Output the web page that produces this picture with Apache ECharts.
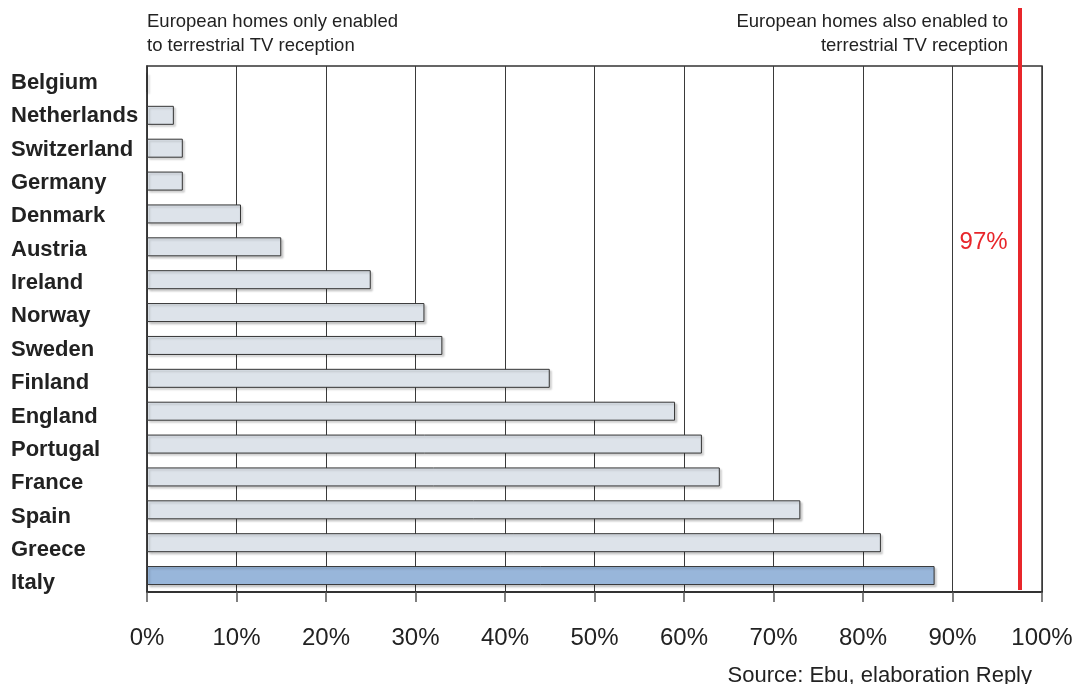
<!DOCTYPE html>
<html>
<head>
<meta charset="utf-8">
<script src="https://cdn.jsdelivr.net/npm/echarts@6/dist/echarts.min.js"></script>
<style>
html,body{margin:0;padding:0;background:#fff;}
#chart{width:1078px;height:684px;}
</style>
</head>
<body>
<div id="chart"></div>
<script>
const countries = ['Belgium','Netherlands','Switzerland','Germany','Denmark','Austria','Ireland','Norway','Sweden','Finland','England','Portugal','France','Spain','Greece','Italy'];
const shares = [0, 3, 4, 4, 10.5, 15, 25, 31, 33, 45, 59, 62, 64, 73, 82, 88];
const highlighted = 'Italy';
const alsoEnabledLine = 97.5;
const alsoEnabledLabel = '97%';
const xTicks = [0,10,20,30,40,50,60,70,80,90,100];

const FONT = '"Liberation Sans", Arial, sans-serif';
const chart = echarts.init(document.getElementById('chart'), null, {renderer:'canvas'});

const barData = countries.map((c, i) => ({
  value: shares[i],
  itemStyle: { color: c === highlighted ? '#98b6da' : '#dde3ea' }
}));

chart.setOption({
  animation: false,
  backgroundColor: '#fff',
  grid: [
    { left: 147, right: 36, top: 66, bottom: 92, show: true, borderColor: '#333', borderWidth: 1.5, containLabel: false },
    { left: 147, right: 36, top: 8, bottom: 94, show: false },
    { left: 147, right: 36, top: 66, bottom: 84, show: false }
  ],
  xAxis: [
    {
      gridIndex: 0, type: 'value', min: 0, max: 100, interval: 10,
      axisLine: { show: true, lineStyle: { color: '#333', width: 2 } },
      axisTick: { show: true, length: 10, lineStyle: { color: '#555', width: 1.5 } },
      splitLine: { show: true, lineStyle: { color: '#3a3a3a', width: 1 } },
      axisLabel: { formatter: v => v + '%', color: '#222', fontSize: 24, fontFamily: FONT, margin: 34 }
    },
    { gridIndex: 1, type: 'value', min: 0, max: 100, show: false },
    { gridIndex: 2, type: 'value', min: 0, max: 100, show: false }
  ],
  yAxis: [
    {
      gridIndex: 0, type: 'category', data: countries, inverse: true,
      axisLine: { show: true, lineStyle: { color: '#333', width: 1.5 } },
      axisTick: { show: false },
      splitLine: { show: false },
      axisLabel: { show: false }
    },
    { gridIndex: 1, type: 'category', data: countries, inverse: true, show: false },
    {
      gridIndex: 2, type: 'category', data: countries, inverse: true,
      axisLine: { show: false }, axisTick: { show: false }, splitLine: { show: false },
      axisLabel: { align: 'left', margin: 136, color: '#222', fontSize: 22, fontWeight: 'bold', fontFamily: FONT }
    }
  ],
  series: [
    {
      type: 'bar', xAxisIndex: 0, yAxisIndex: 0, data: barData, barWidth: 19,
      itemStyle: { borderColor: '#333', borderWidth: 1, shadowColor: 'rgba(0,0,0,0.18)', shadowOffsetX: 2, shadowOffsetY: 2, shadowBlur: 2 },
      markPoint: {
        symbol: 'circle', symbolSize: 0,
        data: [{ coord: [alsoEnabledLine, 'Austria'] }],
        label: { show: true, position: 'left', distance: 12, offset: [0, -4], formatter: alsoEnabledLabel, color: '#e8262b', fontSize: 24, fontFamily: FONT }
      }
    },
    {
      type: 'bar', xAxisIndex: 1, yAxisIndex: 1, data: [],
      markLine: {
        silent: true, symbol: ['none','none'],
        lineStyle: { color: '#e8262b', width: 4, type: 'solid' },
        label: { show: false },
        data: [{ xAxis: alsoEnabledLine }]
      }
    },
    { type: 'bar', xAxisIndex: 2, yAxisIndex: 2, data: [] }
  ],
  graphic: [
    { type: 'text', x: 147, y: 10, style: { text: 'European homes only enabled\nto terrestrial TV reception', font: '18.5px ' + FONT, fill: '#222', lineHeight: 24 } },
    { type: 'text', x: 1008, y: 10, style: { text: 'European homes also enabled to\nterrestrial TV reception', font: '18.5px ' + FONT, fill: '#222', lineHeight: 24, align: 'right' } },
    { type: 'text', x: 1032, y: 665, style: { text: 'Source: Ebu, elaboration Reply', font: '22px ' + FONT, fill: '#222', align: 'right' } }
  ]
});
</script>
</body>
</html>
